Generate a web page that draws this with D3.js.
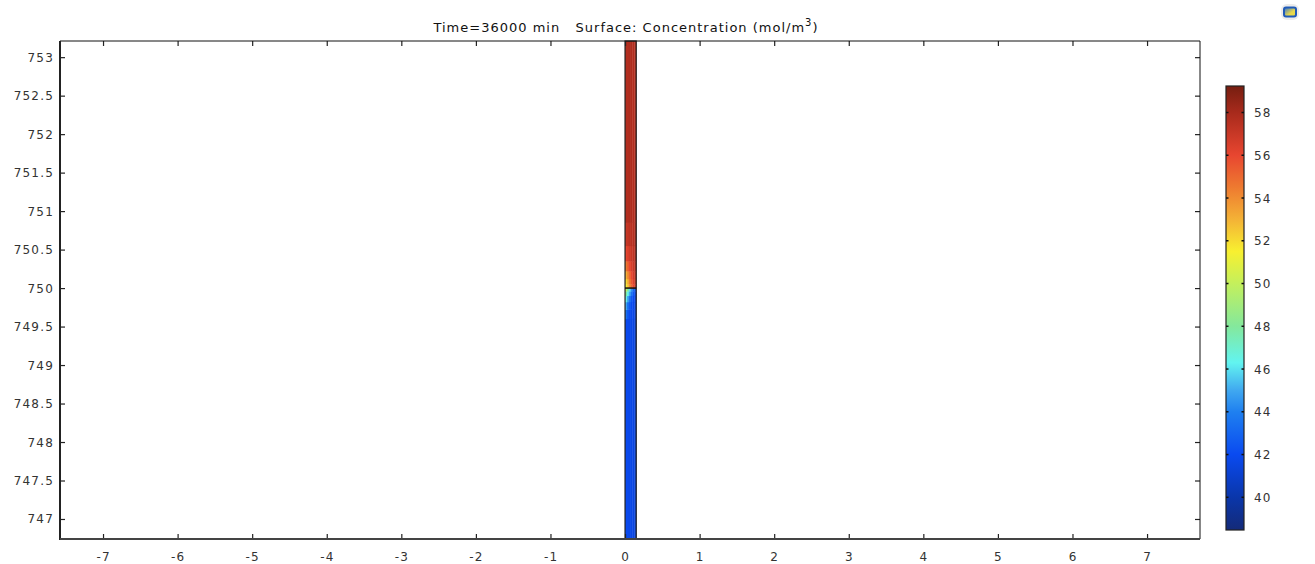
<!DOCTYPE html>
<html>
<head>
<meta charset="utf-8">
<script src="https://cdn.jsdelivr.net/npm/d3@7"></script>
<style>
    body { margin: 0; background: #fff; }
    svg { display: block; font-family: "DejaVu Sans", sans-serif; }
    .tick-label { font-size: 12px; fill: #333; letter-spacing: 1.2px; }
</style>
</head>
<body>
<svg width="1315" height="564"></svg>
<script>
// Axis ticks
var xTicks = [-7, -6, -5, -4, -3, -2, -1, 0, 1, 2, 3, 4, 5, 6, 7];
var yTicks = [747, 747.5, 748, 748.5, 749, 749.5, 750, 750.5, 751, 751.5, 752, 752.5, 753];
var colorTicks = [40, 42, 44, 46, 48, 50, 52, 54, 56, 58];

// Colour table (value -> colour)
var cmapValues = [38.47, 40, 42, 44, 45, 46.3, 48, 50, 51.5, 53, 54.5, 56, 58, 59.24];
var cmapColors = ["#142a78", "#0a36aa", "#0a4af0", "#1f80f0", "#40a8f0", "#62f4f0",
                  "#84e89c", "#c4f05c", "#f8f030", "#f4b236", "#ee7a30", "#e84630",
                  "#a82a1c", "#761e10"];

// Concentration field in the thin domain: column edges (x), row edges (y)
var stripX = [0, 0.025, 0.05, 0.075, 0.1, 0.125, 0.15];
var stripY = [746.74, 749.6, 749.72, 749.82, 749.9, 749.96, 750,
              750.05, 750.12, 750.22, 750.35, 750.55, 750.85, 753.21];
// one row per y band, bottom to top, one value per column
var stripC = [
    [42.0, 41.9, 41.8, 41.7, 41.6, 41.5],
    [43.5, 42.5, 42.0, 41.8, 41.7, 41.6],
    [45.0, 43.5, 42.5, 42.0, 41.8, 41.7],
    [46.5, 45.0, 43.5, 42.5, 42.0, 41.8],
    [48.0, 46.5, 45.0, 43.5, 42.5, 42.0],
    [50.0, 48.0, 46.0, 44.5, 43.0, 42.5],
    [51.5, 52.5, 54.0, 55.0, 56.0, 56.5],
    [52.0, 53.0, 54.5, 55.5, 56.3, 56.8],
    [53.0, 54.0, 55.0, 56.0, 56.7, 57.0],
    [54.5, 55.2, 56.0, 56.6, 57.0, 57.3],
    [56.0, 56.4, 56.8, 57.1, 57.3, 57.5],
    [57.0, 57.2, 57.4, 57.5, 57.6, 57.7],
    [57.7, 57.7, 57.8, 57.8, 57.7, 57.5]
];

var svg = d3.select("svg");
var margin = {left: 60, right: 115, top: 41, bottom: 25};
var width = 1315 - margin.left - margin.right,
    height = 564 - margin.top - margin.bottom;

var x = d3.scaleLinear().domain([-7.577, 7.71]).range([0, width]);
var y = d3.scaleLinear().domain([746.74, 753.21]).range([height, 0]);
var color = d3.scaleLinear().domain(cmapValues).range(cmapColors);

var chart = svg.append("g")
    .attr("transform", "translate(" + margin.left + "," + margin.top + ")");

/****** FIELD ******/
stripC.forEach(function(row, i) {
    row.forEach(function(c, j) {
        chart.append("rect")
            .attr("x", x(stripX[j]))
            .attr("y", y(stripY[i + 1]))
            .attr("width", x(stripX[j + 1]) - x(stripX[j]) + 0.3)
            .attr("height", y(stripY[i]) - y(stripY[i + 1]) + 0.3)
            .attr("fill", color(c));
    });
});

// domain edges
chart.append("rect")
    .attr("x", x(0))
    .attr("y", 0)
    .attr("width", x(0.15) - x(0))
    .attr("height", height)
    .attr("fill", "none")
    .attr("stroke", "#222")
    .attr("stroke-width", 1.2);
chart.append("line")
    .attr("x1", x(0)).attr("x2", x(0.15))
    .attr("y1", y(750)).attr("y2", y(750))
    .attr("stroke", "#111")
    .attr("stroke-width", 1.5);

/****** AXES ******/
function tickFmt(d) { return String(d); }

var bottom = chart.append("g")
    .attr("transform", "translate(0," + height + ")")
    .call(d3.axisTop(x).tickValues(xTicks).tickSize(5).tickFormat(""));
var top_ = chart.append("g")
    .call(d3.axisBottom(x).tickValues(xTicks).tickSize(5).tickFormat(""));
var left = chart.append("g")
    .call(d3.axisRight(y).tickValues(yTicks).tickSize(5).tickFormat(""));
var right = chart.append("g")
    .attr("transform", "translate(" + width + ",0)")
    .call(d3.axisLeft(y).tickValues(yTicks).tickSize(5).tickFormat(""));

[bottom, top_, left, right].forEach(function(g) {
    g.select(".domain").remove();
    g.selectAll(".tick line").attr("stroke", "#222").attr("stroke-width", 1.2);
});

// frame
chart.append("line").attr("x1", 0).attr("x2", width).attr("y1", 0).attr("y2", 0)
    .attr("stroke", "#111").attr("stroke-width", 1);
chart.append("line").attr("x1", width).attr("x2", width).attr("y1", 0).attr("y2", height)
    .attr("stroke", "#111").attr("stroke-width", 1);
chart.append("line").attr("x1", 0).attr("x2", 0).attr("y1", 0).attr("y2", height + 1)
    .attr("stroke", "#222").attr("stroke-width", 2);
chart.append("line").attr("x1", 0).attr("x2", width).attr("y1", height).attr("y2", height)
    .attr("stroke", "#444").attr("stroke-width", 2);

// tick labels
chart.selectAll("text.xl").data(xTicks).enter().append("text")
    .attr("class", "tick-label")
    .attr("x", function(d) { return x(d) + 0.6; })
    .attr("y", height + 22)
    .attr("text-anchor", "middle")
    .text(tickFmt);
chart.selectAll("text.yl").data(yTicks).enter().append("text")
    .attr("class", "tick-label")
    .attr("x", -6)
    .attr("y", function(d) { return y(d) + 4.5; })
    .attr("text-anchor", "end")
    .text(tickFmt);

// title
var title = svg.append("text")
    .attr("x", 626)
    .attr("y", 32)
    .attr("text-anchor", "middle")
    .style("font-size", "13px")
    .style("letter-spacing", "1px")
    .attr("fill", "#111");
title.append("tspan").attr("xml:space", "preserve").text("Time=36000 min   Surface: Concentration (mol/m");
title.append("tspan").attr("dy", -6).style("font-size", "10px").text("3");
title.append("tspan").attr("dy", 6).text(")");

/****** COLOUR BAR ******/
var cb = {x: 1226, y: 86, w: 18, h: 444};
var cy = d3.scaleLinear().domain([38.47, 59.24]).range([cb.y + cb.h, cb.y]);

var grad = svg.append("defs").append("linearGradient")
    .attr("id", "cbar")
    .attr("x1", 0).attr("x2", 0).attr("y1", 1).attr("y2", 0);
grad.selectAll("stop").data(cmapValues).enter().append("stop")
    .attr("offset", function(d) { return (d - 38.47) / (59.24 - 38.47); })
    .attr("stop-color", function(d, i) { return cmapColors[i]; });

svg.append("rect")
    .attr("x", cb.x).attr("y", cb.y)
    .attr("width", cb.w).attr("height", cb.h)
    .attr("fill", "url(#cbar)")
    .attr("stroke", "#222")
    .attr("stroke-width", 1.2);

colorTicks.forEach(function(v) {
    svg.append("line")
        .attr("x1", cb.x).attr("x2", cb.x + 2.5)
        .attr("y1", cy(v)).attr("y2", cy(v))
        .attr("stroke", "#111").attr("stroke-width", 1.5);
    svg.append("line")
        .attr("x1", cb.x + cb.w - 2.5).attr("x2", cb.x + cb.w)
        .attr("y1", cy(v)).attr("y2", cy(v))
        .attr("stroke", "#111").attr("stroke-width", 1.5);
    svg.append("text")
        .attr("class", "tick-label")
        .attr("x", cb.x + cb.w + 10)
        .attr("y", cy(v) + 4.5)
        .text(v);
});

// small window icon in the corner
var icon = svg.append("g").attr("transform", "translate(1284,6)");
var ig = svg.select("defs").append("linearGradient")
    .attr("id", "icon").attr("x1", 0).attr("x2", 1).attr("y1", 0).attr("y2", 1);
ig.append("stop").attr("offset", 0).attr("stop-color", "#2f6fd0");
ig.append("stop").attr("offset", 0.6).attr("stop-color", "#e8d84a");
icon.append("rect").attr("x", -3).attr("y", -2).attr("width", 18).attr("height", 16)
    .attr("rx", 6).attr("fill", "#e4e4e4").attr("opacity", 0.7);
icon.append("rect").attr("x", 0).attr("y", 1.5).attr("width", 12).attr("height", 9)
    .attr("rx", 2).attr("fill", "url(#icon)").attr("stroke", "#1f5ab8").attr("stroke-width", 2);
</script>
</body>
</html>
